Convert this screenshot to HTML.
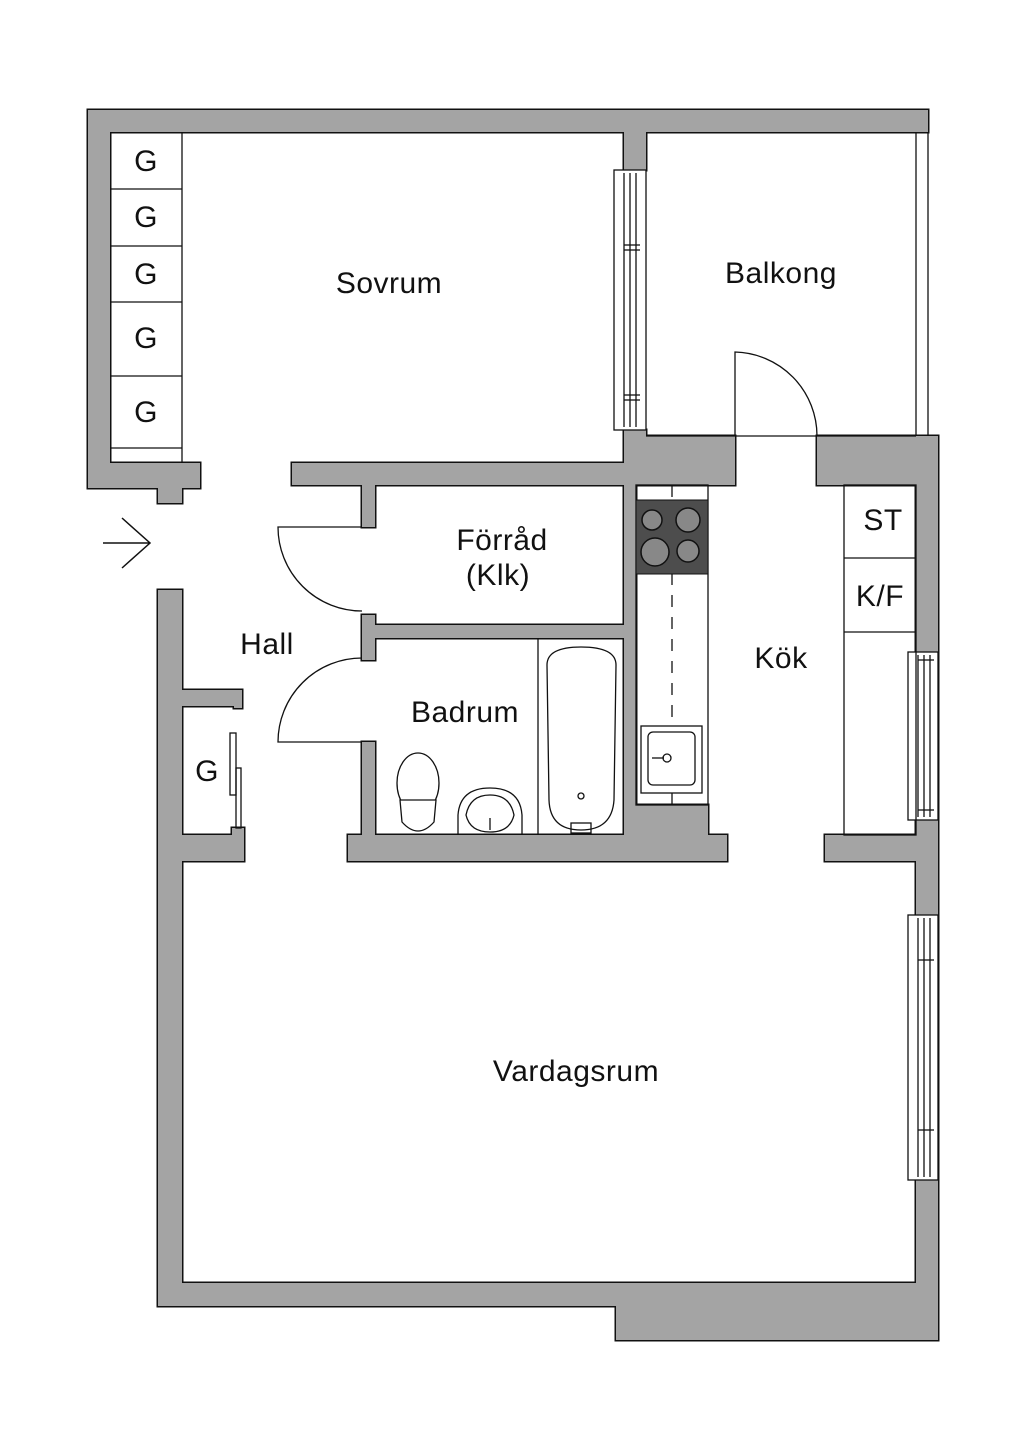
<!DOCTYPE html>
<html><head><meta charset="utf-8"><style>
html,body{margin:0;padding:0;background:#fff;}
svg{display:block}
text{font-family:"Liberation Sans",sans-serif;fill:#111;text-anchor:middle;}
</style></head><body>
<svg width="1024" height="1448" viewBox="0 0 1024 1448" xmlns="http://www.w3.org/2000/svg">
<defs>
<g id="walls">
<rect x="88" y="110" width="840" height="22"/>
<rect x="88" y="110" width="22" height="378"/>
<rect x="88" y="463" width="112" height="25"/>
<rect x="158" y="463" width="24" height="40"/>
<rect x="158" y="590" width="24" height="716"/>
<rect x="292" y="463" width="344" height="22"/>
<rect x="624" y="132" width="22" height="38"/>
<rect x="624" y="430" width="22" height="55"/>
<rect x="624" y="436" width="111" height="49"/>
<rect x="624" y="485" width="12" height="350"/>
<rect x="817" y="436" width="121" height="49"/>
<rect x="916" y="436" width="22" height="904"/>
<rect x="362" y="485" width="13" height="42"/>
<rect x="362" y="615" width="13" height="45"/>
<rect x="362" y="742" width="13" height="93"/>
<rect x="362" y="625" width="274" height="13"/>
<rect x="348" y="835" width="379" height="26"/>
<rect x="636" y="805" width="72" height="30"/>
<rect x="825" y="835" width="91" height="26"/>
<rect x="182" y="690" width="60" height="16"/>
<rect x="234" y="690" width="8" height="18"/>
<rect x="182" y="835" width="62" height="26"/>
<rect x="232" y="828" width="12" height="10"/>
<rect x="158" y="1283" width="780" height="23"/>
<rect x="616" y="1283" width="322" height="57"/>
</g>
</defs>
<use href="#walls" fill="none" stroke="#111" stroke-width="3"/>
<use href="#walls" fill="#a4a4a4"/>

<g fill="none" stroke="#111" stroke-width="1.3">
<line x1="916" y1="132" x2="916" y2="436"/>
<line x1="928" y1="132" x2="928" y2="436"/>
<line x1="646" y1="436" x2="916" y2="436"/>
<rect x="614" y="170" width="32" height="260" fill="#fff"/>
<line x1="624" y1="173" x2="624" y2="427"/><line x1="630" y1="173" x2="630" y2="427"/><line x1="636" y1="173" x2="636" y2="427"/>
<line x1="624" y1="245" x2="640" y2="245"/><line x1="624" y1="250" x2="640" y2="250"/>
<line x1="624" y1="395" x2="640" y2="395"/><line x1="624" y1="400" x2="640" y2="400"/>
<rect x="908" y="652" width="30" height="168" fill="#fff"/>
<line x1="918" y1="655" x2="918" y2="817"/><line x1="924" y1="655" x2="924" y2="817"/><line x1="930" y1="655" x2="930" y2="817"/>
<line x1="918" y1="660" x2="934" y2="660"/><line x1="918" y1="810" x2="934" y2="810"/>
<rect x="908" y="915" width="30" height="265" fill="#fff"/>
<line x1="918" y1="918" x2="918" y2="1177"/><line x1="924" y1="918" x2="924" y2="1177"/><line x1="930" y1="918" x2="930" y2="1177"/>
<line x1="918" y1="960" x2="934" y2="960"/><line x1="918" y1="1130" x2="934" y2="1130"/>
<line x1="182" y1="132" x2="182" y2="463"/>
<line x1="110" y1="189" x2="182" y2="189"/><line x1="110" y1="246" x2="182" y2="246"/>
<line x1="110" y1="302" x2="182" y2="302"/><line x1="110" y1="376" x2="182" y2="376"/>
<line x1="110" y1="448" x2="182" y2="448"/>
<rect x="230" y="733" width="6" height="62"/><rect x="236" y="768" width="5" height="60"/>
<path d="M735 436 L735 352 A84 84 0 0 1 817 436"/>
<path d="M362 527 L278 527 A84 84 0 0 0 362 611"/>
<path d="M362 742 L278 742 L278 742 A84 84 0 0 1 362 658"/>
<path d="M103 543 L150 543 M122 518 L150 543 L122 568" stroke-width="1.5"/>
<rect x="636" y="485" width="72" height="320"/>
<line x1="672" y1="485" x2="672" y2="805" stroke-dasharray="12,10"/>
<rect x="641" y="726" width="61" height="67" fill="#fff"/>
<rect x="648" y="732" width="47" height="53" rx="5"/>
<circle cx="667" cy="758" r="4"/><line x1="652" y1="758" x2="664" y2="758"/>
<rect x="844" y="485" width="72" height="350"/>
<line x1="844" y1="558" x2="916" y2="558"/><line x1="844" y1="632" x2="916" y2="632"/>
<line x1="538" y1="638" x2="538" y2="835"/>
<path d="M547 665 Q547 647 581 647 Q616 647 616 665 L614 800 Q612 830 581 830 Q550 830 549 800 Z"/>
<circle cx="581" cy="796" r="3"/>
<rect x="571" y="823" width="20" height="10"/>
<ellipse cx="418" cy="783" rx="21" ry="30"/>
<path d="M400 800 L436 800 L434 822 Q418 840 402 822 Z" fill="#fff"/>
<path d="M458 835 L458 815 Q460 788 490 788 Q520 788 522 815 L522 835"/>
<path d="M466 815 Q470 795 490 795 Q510 795 514 815 Q510 832 490 832 Q470 832 466 815Z"/>
<line x1="490" y1="818" x2="490" y2="830"/>
</g>
<rect x="636" y="500" width="72" height="74" fill="#4d4d4d" stroke="#111"/>
<g fill="#888" stroke="#111" stroke-width="1.5">
<circle cx="652" cy="520" r="10"/><circle cx="688" cy="520" r="12"/>
<circle cx="655" cy="552" r="14"/><circle cx="688" cy="551" r="11"/>
</g>
<g font-size="30" letter-spacing="0.5">
<text x="146" y="171">G</text><text x="146" y="227">G</text><text x="146" y="284">G</text>
<text x="146" y="348">G</text><text x="146" y="422">G</text>
<text x="207" y="781">G</text>
<text x="389" y="293">Sovrum</text>
<text x="781" y="283">Balkong</text>
<text x="502" y="550">Förråd</text>
<text x="498" y="585">(Klk)</text>
<text x="267" y="654">Hall</text>
<text x="465" y="722">Badrum</text>
<text x="781" y="668">Kök</text>
<text x="576" y="1081">Vardagsrum</text>
<text x="883" y="530">ST</text>
<text x="880" y="606">K/F</text>
</g>
</svg>
</body></html>
